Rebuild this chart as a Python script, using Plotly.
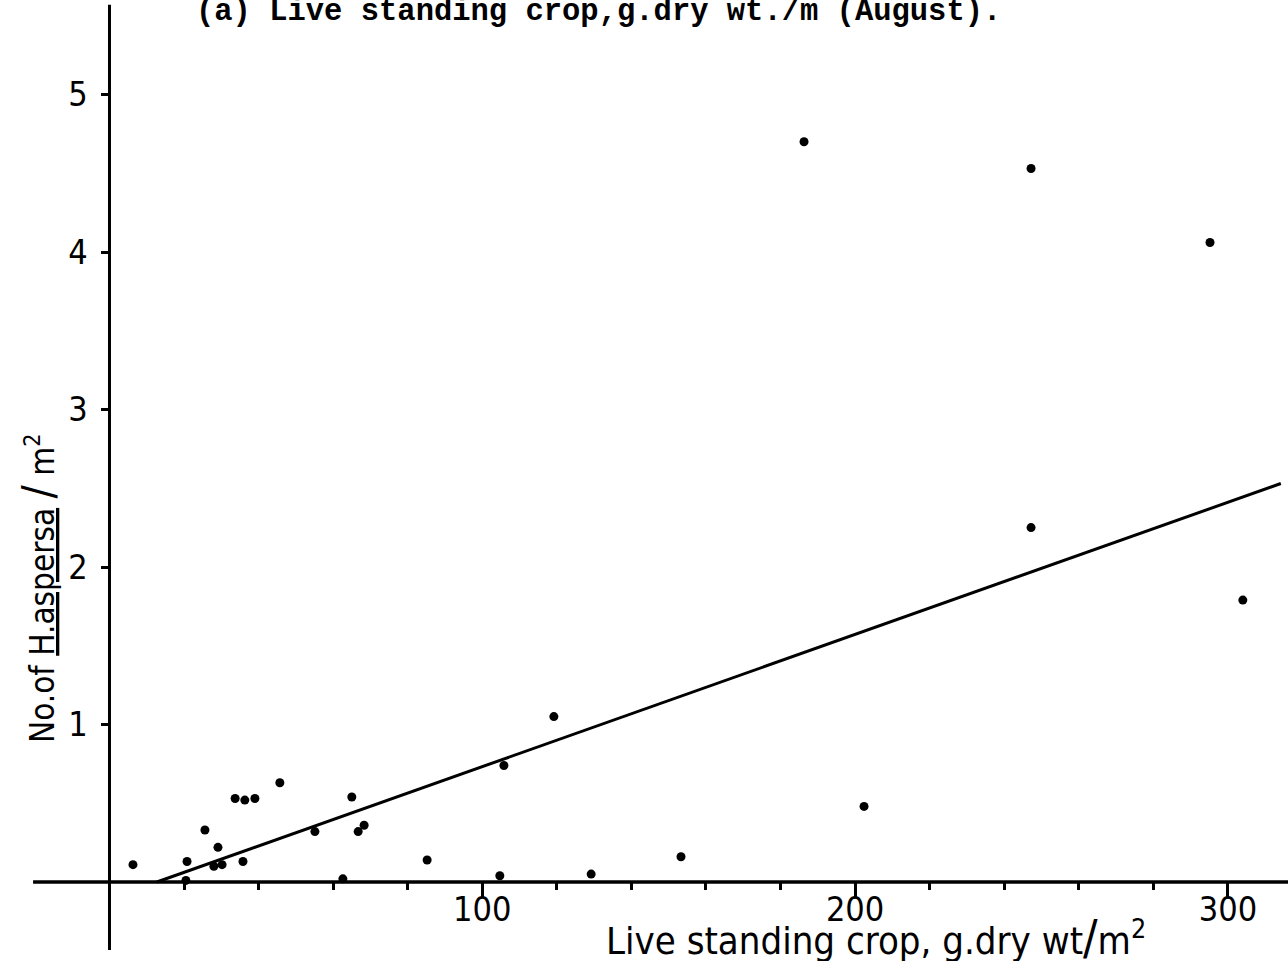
import plotly.graph_objects as go

# Data
crop_x = [6.3, 20.8, 20.5, 25.6, 29.1, 28.0, 30.2, 33.7, 36.3, 39.0, 35.8, 45.7,
          55.1, 62.6, 65.0, 66.7, 68.3, 85.2, 104.7, 105.8, 129.2, 153.3, 202.4,
          119.2, 186.3, 247.2, 247.2, 295.2, 304.0]
aspersa_y = [0.11, 0.13, 0.01, 0.33, 0.22, 0.10, 0.11, 0.53, 0.52, 0.53, 0.13, 0.63,
             0.32, 0.02, 0.54, 0.32, 0.36, 0.14, 0.04, 0.74, 0.05, 0.16, 0.48,
             1.05, 4.70, 4.53, 2.25, 4.06, 1.79]
fit_x = [12.7, 314.2]
fit_y = [0.0, 2.53]

x_major = [100, 200, 300]
x_major_labels = ["100", "200", "300"]
x_minor = [20, 40, 60, 80, 120, 140, 160, 180, 220, 240, 260, 280]
y_major = [1, 2, 3, 4, 5]
y_major_labels = ["1", "2", "3", "4", "5"]

W, H = 1288, 961
x_range = [-29.37, 316.12]
y_range = [-0.5016, 5.6]

LETTER = "Liberation Sans Narrow, DejaVu Sans Condensed, Roboto, sans-serif"

fig = go.Figure()
fig.add_trace(go.Scatter(x=fit_x, y=fit_y, mode="lines",
                         line=dict(color="black", width=3), hoverinfo="skip"))
fig.add_trace(go.Scatter(x=crop_x, y=aspersa_y, mode="markers",
                         marker=dict(color="black", size=9)))

# axis lines crossing at the origin
fig.add_shape(type="line", x0=-20.5, x1=x_range[1], y0=0, y1=0,
              line=dict(color="black", width=3.5))
fig.add_shape(type="line", x0=0, x1=0, y0=-0.432, y1=5.57,
              line=dict(color="black", width=3))

fig.update_layout(
    template="none",
    width=W, height=H,
    margin=dict(l=0, r=0, t=0, b=0),
    paper_bgcolor="white", plot_bgcolor="white",
    showlegend=False,
    xaxis=dict(range=x_range, showgrid=False, zeroline=False, showline=False,
               automargin=False, anchor="free", position=(H - 882) / H,
               tickmode="array", tickvals=x_major, ticktext=x_major_labels,
               ticks="outside", ticklen=14, tickwidth=3, tickcolor="black",
               ticklabelstandoff=-17,
               tickfont=dict(family=LETTER, size=34, color="black"),
               minor=dict(tickmode="array", tickvals=x_minor, ticks="outside",
                          ticklen=7, tickwidth=2.5, tickcolor="black")),
    yaxis=dict(range=y_range, showgrid=False, zeroline=False, showline=False,
               automargin=False, anchor="free", position=109.5 / W,
               tickmode="array", tickvals=y_major, ticktext=y_major_labels,
               ticks="outside", ticklen=9, tickwidth=2.5, tickcolor="black",
               ticklabelstandoff=6,
               tickfont=dict(family=LETTER, size=34, color="black")),
)

fig.add_annotation(text="(a) Live standing crop,g.dry wt./m (August).",
                   xref="paper", yref="paper", x=194 / W, y=1 - 31 / H,
                   xanchor="left", yanchor="bottom", showarrow=False,
                   font=dict(family="Courier New, Liberation Mono, monospace",
                             size=30.5, color="black", weight="bold"))
fig.add_annotation(text="Live standing crop, g.dry wt<span style='font-size:48px'>/</span>m<sup>2</sup>",
                   xref="paper", yref="paper", x=604 / W, y=(H - 937) / H,
                   xanchor="left", yanchor="middle", showarrow=False,
                   font=dict(family=LETTER, size=38, color="black"))
fig.add_annotation(text="No.of <u>H.aspersa</u> <span style='font-size:44px'>/</span> m<sup>2</sup>",
                   xref="paper", yref="paper", x=38 / W, y=(H - 589) / H,
                   xanchor="center", yanchor="middle", textangle=-90,
                   showarrow=False,
                   font=dict(family=LETTER, size=33, color="black"))

fig.write_html("out.html")
